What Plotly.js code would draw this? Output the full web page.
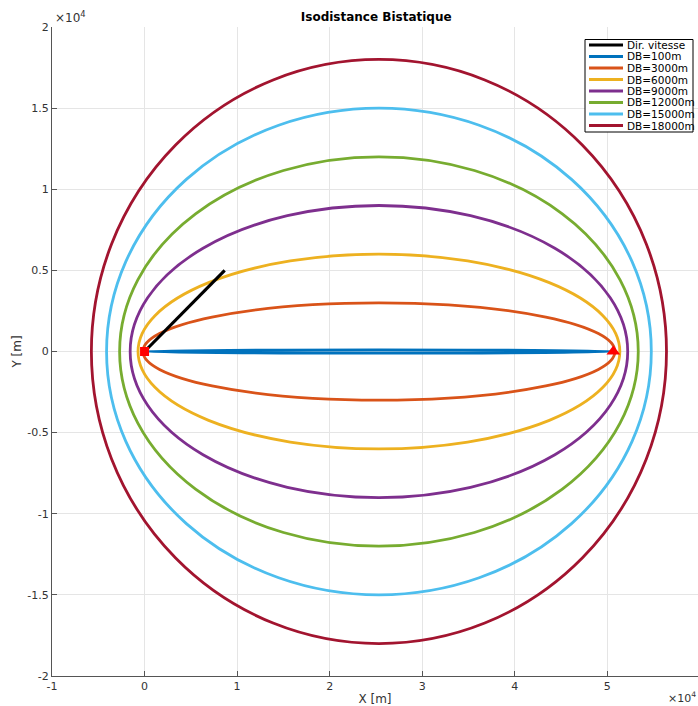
<!DOCTYPE html>
<html><head><meta charset="utf-8">
<script src="https://cdn.plot.ly/plotly-3.0.1.min.js"></script>
<style>html,body{margin:0;padding:0;background:#fff}#plot{width:698px;height:706px}</style>
</head><body><div id="plot"></div>
<script>
// Bistatic isodistance curves: ellipses with foci at transmitter (0,0) and receiver
var dbLabels   = ['DB=100m','DB=3000m','DB=6000m','DB=9000m','DB=12000m','DB=15000m','DB=18000m'];
var semiMinor  = [100, 3000, 6000, 9000, 12000, 15000, 18000];          // m (half height)
var semiMajor  = [25330, 25500, 26030, 26880, 28020, 29430, 31070];     // m (half width, read)
var centerX    = 25325;                                                  // m
var colors     = ['#0072BD','#D95319','#EDB120','#7E2F8E','#77AC30','#4DBEEE','#A2142F'];
var velX = [0, 8660], velY = [0, 5000];    // Dir. vitesse
var txX = [0], txY = [0];                  // transmitter (square)
var rxX = [50650], rxY = [0];              // receiver (triangle)
var xTicks = [-10000,0,10000,20000,30000,40000,50000];
var xTickText = ['-1','0','1','2','3','4','5'];
var yTicks = [-20000,-15000,-10000,-5000,0,5000,10000,15000,20000];
var yTickText = ['-2','-1.5','-1','-0.5','0','0.5','1','1.5','2'];
var legendNames = ['Dir. vitesse'].concat(dbLabels);
var legendColors = ['#000000'].concat(colors);

var W = 698, H = 706, ML = 52, MR = 0, MT = 27, MB = 30;
function px2x(p){ return (p - ML) / (W - ML - MR); }
function px2y(p){ return (H - MB - p) / (H - MT - MB); }

var traces = [
  {x: velX, y: velY, mode:'lines', name:'Dir. vitesse', line:{color:'#000', width:3.2}, showlegend:false},
  {x: txX, y: txY, mode:'markers', showlegend:false, marker:{symbol:'square', size:9, color:'#ff0000'}},
  {x: rxX, y: rxY, mode:'markers', showlegend:false, marker:{symbol:'triangle-up', size:12, color:'#ff0000'}}
];
var shapes = semiMajor.map(function(a,i){
  return {type:'circle', xref:'x', yref:'y', layer:'between',
    x0: centerX - a, x1: centerX + a, y0: -semiMinor[i], y1: semiMinor[i],
    line:{color:colors[i], width:2.8}, fillcolor:'rgba(0,0,0,0)'};
});
// manual legend (MATLAB style, compact)
var annotations = [];
var lgTop = 39.5, lgBot = 132, lgLeft = 585, lgRight = 693, rowY0 = 45, rowDy = 11.5;
shapes.push({type:'rect', xref:'paper', yref:'paper', layer:'above',
  x0:px2x(lgLeft), x1:px2x(lgRight), y0:px2y(lgBot), y1:px2y(lgTop),
  line:{color:'#000', width:1}, fillcolor:'#fff'});
legendNames.forEach(function(n,i){
  var yy = px2y(rowY0 + i*rowDy);
  shapes.push({type:'line', xref:'paper', yref:'paper', layer:'above',
    x0:px2x(589), x1:px2x(623), y0:yy, y1:yy, line:{color:legendColors[i], width:2.8}});
  annotations.push({xref:'paper', yref:'paper', x:px2x(625), y:yy, xanchor:'left', yanchor:'middle',
    showarrow:false, text:n, font:{family:'DejaVu Sans', size:10.5, color:'#000'}});
});
annotations.push({xref:'paper', yref:'paper', x:0.0, y:1.0, xanchor:'left', yanchor:'bottom', yshift:0, xshift:1, showarrow:false,
     text:'×10<sup>4</sup>', font:{family:'DejaVu Sans', size:12, color:'#333'}});
annotations.push({xref:'paper', yref:'paper', x:1.0, y:0, xanchor:'right', yanchor:'top', yshift:-12, xshift:0, showarrow:false,
     text:'×10<sup>4</sup>', font:{family:'DejaVu Sans', size:11, color:'#333'}});

var axisCommon = {showline:true, linecolor:'#555', linewidth:1, ticks:'inside', ticklen:5, tickcolor:'#555',
  showgrid:true, gridcolor:'#e5e5e5', gridwidth:1, zeroline:false, mirror:false,
  tickfont:{family:'DejaVu Sans', size:11, color:'#333'}};
var layout = {
  width:W, height:H, margin:{l:ML, r:MR, t:MT, b:MB},
  paper_bgcolor:'#fff', plot_bgcolor:'#fff',
  font:{family:'DejaVu Sans', color:'#333'},
  title:{text:'<b>Isodistance Bistatique</b>', x:0.539, xanchor:'center', y:0.976, yanchor:'middle', font:{family:'DejaVu Sans', size:12, color:'#000'}},
  xaxis: Object.assign({}, axisCommon, {range:[-10000, 59800], tickvals:xTicks, ticktext:xTickText,
    title:{text:'X [m]', standoff:5, font:{size:12, color:'#333'}}}),
  yaxis: Object.assign({}, axisCommon, {range:[-20000, 20000], tickvals:yTicks, ticktext:yTickText,
    title:{text:'Y [m]', standoff:3, font:{size:12, color:'#333'}}}),
  shapes: shapes,
  showlegend:false,
  annotations: annotations
};
Plotly.newPlot('plot', traces, layout, {displayModeBar:false, staticPlot:true});
</script></body></html>
